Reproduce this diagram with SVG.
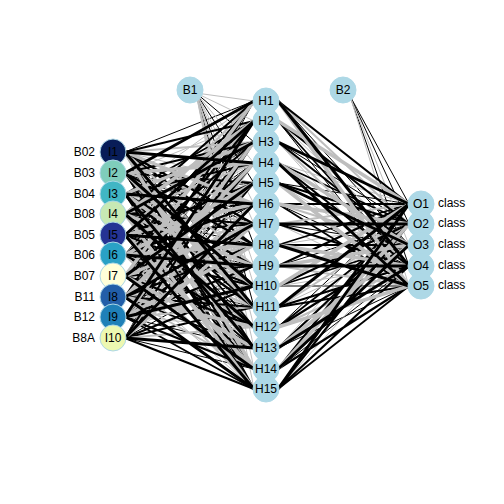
<svg xmlns="http://www.w3.org/2000/svg" width="504" height="504" viewBox="0 0 504 504">
<style>
text{font-family:"Liberation Sans",Arial,sans-serif;font-size:12px;fill:#000}
.n text{text-anchor:middle}
.nd{fill:#add8e6;stroke:#add8e6;stroke-width:1}
.lab{text-anchor:end}
.g{fill:none;stroke:#bebebe}
.k{fill:none;stroke:#000}
</style>
<rect width="504" height="504" fill="#fff"/>
<g id="connectors">
<path class="k" stroke-width="1" d="M125 152L254 101M125 152L254 286M125 173L254 224M125 173L254 389M125 194L254 183M125 194L254 327M125 214L254 245M125 235L254 142M125 235L254 266M125 255L254 163M125 255L254 348M125 276L254 204M125 276L254 307M125 297L254 121M125 297L254 286M125 317L254 183M125 317L254 348M125 338L254 101M125 338L254 266M125 338L254 369M196 93L254 142M196 93L254 183M196 93L254 245M196 93L254 307M278 101L409 245M278 121L409 286M278 142L409 224M278 183L409 204M278 204L409 266M278 224L409 245M278 266L409 224M278 286L409 286M278 327L409 204M278 348L409 286M278 369L409 266M350 96L409 204M350 96L409 224M350 96L409 266"/>
<path class="g" stroke-width="1" d="M125 152L254 183M125 152L254 327M125 173L254 121M125 173L254 266M125 194L254 101M125 194L254 245M125 214L254 183M125 214L254 348M125 235L254 163M125 235L254 307M125 255L254 224M125 255L254 369M125 276L254 142M125 276L254 286M125 276L254 389M125 297L254 204M125 297L254 266M125 317L254 101M125 317L254 327M125 338L254 121M125 338L254 245M196 93L254 101M196 93L254 121M196 93L254 163M196 93L254 204M196 93L254 224M196 93L254 266M196 93L254 286M196 93L254 327M196 93L254 348M196 93L254 369M196 93L254 389M278 121L409 245M278 142L409 286M278 163L409 204M278 183L409 266M278 224L409 286M278 245L409 224M278 286L409 266M278 307L409 245M278 348L409 204M278 389L409 245M350 96L409 245M350 96L409 286"/>
<path class="k" stroke-width="1.8" d="M125 152L254 245M125 152L254 389M125 173L254 183M125 173L254 327M125 194L254 121M125 194L254 307M125 214L254 204M125 214L254 369M125 235L254 224M125 235L254 348M125 255L254 101M125 255L254 286M125 276L254 163M125 276L254 266M125 297L254 142M125 297L254 348M125 317L254 224M125 317L254 389M125 338L254 183M125 338L254 307M278 121L409 266M278 163L409 224M278 204L409 286M278 245L409 204M278 286L409 245M278 307L409 286M278 327L409 224M278 389L409 286"/>
<path class="g" stroke-width="2" d="M125 152L254 142M125 152L254 266M125 173L254 204M125 173L254 348M125 194L254 224M125 194L254 369M125 214L254 163M125 214L254 286M125 235L254 101M125 235L254 327M125 255L254 121M125 255L254 307M125 255L254 389M125 276L254 245M125 297L254 183M125 297L254 369M125 317L254 204M125 317L254 307M125 338L254 163M125 338L254 327M278 101L409 224M278 142L409 266M278 204L409 245M278 224L409 204M278 266L409 286M278 307L409 224M278 327L409 266"/>
<path class="k" stroke-width="2.2" d="M125 152L254 121M125 152L254 224M125 152L254 348M125 173L254 142M125 173L254 245M125 173L254 369M125 194L254 163M125 194L254 266M125 194L254 389M125 214L254 101M125 214L254 224M125 214L254 307M125 235L254 183M125 235L254 286M125 255L254 142M125 255L254 204M125 255L254 327M125 276L254 121M125 276L254 327M125 297L254 101M125 297L254 245M125 297L254 307M125 317L254 163M125 317L254 266M125 317L254 369M125 338L254 142M125 338L254 286M125 338L254 389M278 101L409 204M278 121L409 224M278 142L409 245M278 163L409 266M278 183L409 224M278 204L409 204M278 224L409 266M278 245L409 245M278 266L409 204M278 286L409 224M278 307L409 266M278 327L409 245M278 348L409 224M278 369L409 204M278 369L409 286M278 389L409 224M278 389L409 266"/>
<path class="g" stroke-width="3.5" d="M125 152L254 204M125 152L254 369M125 173L254 163M125 173L254 307M125 194L254 142M125 194L254 286M125 214L254 121M125 214L254 266M125 214L254 389M125 235L254 204M125 235L254 369M125 255L254 183M125 255L254 245M125 276L254 101M125 276L254 224M125 276L254 348M125 297L254 163M125 297L254 327M125 317L254 142M125 317L254 245M125 338L254 224M278 101L409 286M278 121L409 204M278 163L409 245M278 183L409 286M278 204L409 224M278 245L409 266M278 266L409 245M278 286L409 204M278 327L409 286M278 348L409 245M278 369L409 224"/>
<path class="k" stroke-width="3" d="M125 152L254 163M125 152L254 307M125 173L254 101M125 173L254 286M125 194L254 204M125 194L254 348M125 214L254 142M125 214L254 327M125 235L254 121M125 235L254 245M125 235L254 389M125 255L254 266M125 276L254 183M125 276L254 369M125 297L254 224M125 297L254 389M125 317L254 121M125 317L254 286M125 338L254 204M125 338L254 348M278 101L409 266M278 142L409 204M278 163L409 286M278 183L409 245M278 224L409 224M278 245L409 286M278 266L409 266M278 307L409 204M278 348L409 266M278 369L409 245M278 389L409 204"/>
</g>
<g id="labels-in">
<text class="lab" x="95" y="156">B02</text>
<text class="lab" x="95" y="177">B03</text>
<text class="lab" x="95" y="198">B04</text>
<text class="lab" x="95" y="218">B08</text>
<text class="lab" x="95" y="239">B05</text>
<text class="lab" x="95" y="259">B06</text>
<text class="lab" x="95" y="280">B07</text>
<text class="lab" x="95" y="301">B11</text>
<text class="lab" x="95" y="321">B12</text>
<text class="lab" x="95" y="342">B8A</text>
</g>
<g class="n">
<g id="I1"><circle class="nd" cx="113" cy="152" r="13" style="fill:#081d58"/><text x="113" y="156">I1</text></g>
<g id="I2"><circle class="nd" cx="113" cy="173" r="13" style="fill:#7fcdbb"/><text x="113" y="177">I2</text></g>
<g id="I3"><circle class="nd" cx="113" cy="194" r="13" style="fill:#41b6c4"/><text x="113" y="198">I3</text></g>
<g id="I4"><circle class="nd" cx="113" cy="214" r="13" style="fill:#c7e9b4"/><text x="113" y="218">I4</text></g>
<g id="I5"><circle class="nd" cx="113" cy="235" r="13" style="fill:#253494"/><text x="113" y="239">I5</text></g>
<g id="I6"><circle class="nd" cx="113" cy="255" r="13" style="fill:#2aa1c6"/><text x="113" y="259">I6</text></g>
<g id="I7"><circle class="nd" cx="113" cy="276" r="13" style="fill:#ffffd9"/><text x="113" y="280">I7</text></g>
<g id="I8"><circle class="nd" cx="113" cy="297" r="13" style="fill:#225ea8"/><text x="113" y="301">I8</text></g>
<g id="I9"><circle class="nd" cx="113" cy="317" r="13" style="fill:#1f80b8"/><text x="113" y="321">I9</text></g>
<g id="I10"><circle class="nd" cx="113" cy="338" r="13" style="fill:#edf8b1"/><text x="113" y="342">I10</text></g>
<g id="B1"><circle class="nd" cx="190" cy="90" r="13"/><text x="190" y="94">B1</text></g>
<g id="B2"><circle class="nd" cx="343" cy="90" r="13"/><text x="343" y="94">B2</text></g>
<g id="H1"><circle class="nd" cx="266" cy="101" r="13"/><text x="266" y="105">H1</text></g>
<g id="H2"><circle class="nd" cx="266" cy="121" r="13"/><text x="266" y="125">H2</text></g>
<g id="H3"><circle class="nd" cx="266" cy="142" r="13"/><text x="266" y="146">H3</text></g>
<g id="H4"><circle class="nd" cx="266" cy="163" r="13"/><text x="266" y="167">H4</text></g>
<g id="H5"><circle class="nd" cx="266" cy="183" r="13"/><text x="266" y="187">H5</text></g>
<g id="H6"><circle class="nd" cx="266" cy="204" r="13"/><text x="266" y="208">H6</text></g>
<g id="H7"><circle class="nd" cx="266" cy="224" r="13"/><text x="266" y="228">H7</text></g>
<g id="H8"><circle class="nd" cx="266" cy="245" r="13"/><text x="266" y="249">H8</text></g>
<g id="H9"><circle class="nd" cx="266" cy="266" r="13"/><text x="266" y="270">H9</text></g>
<g id="H10"><circle class="nd" cx="266" cy="286" r="13"/><text x="266" y="290">H10</text></g>
<g id="H11"><circle class="nd" cx="266" cy="307" r="13"/><text x="266" y="311">H11</text></g>
<g id="H12"><circle class="nd" cx="266" cy="327" r="13"/><text x="266" y="331">H12</text></g>
<g id="H13"><circle class="nd" cx="266" cy="348" r="13"/><text x="266" y="352">H13</text></g>
<g id="H14"><circle class="nd" cx="266" cy="369" r="13"/><text x="266" y="373">H14</text></g>
<g id="H15"><circle class="nd" cx="266" cy="389" r="13"/><text x="266" y="393">H15</text></g>
<g id="O1"><circle class="nd" cx="421" cy="204" r="13"/><text x="421" y="208">O1</text></g>
<g id="O2"><circle class="nd" cx="421" cy="224" r="13"/><text x="421" y="228">O2</text></g>
<g id="O3"><circle class="nd" cx="421" cy="245" r="13"/><text x="421" y="249">O3</text></g>
<g id="O4"><circle class="nd" cx="421" cy="266" r="13"/><text x="421" y="270">O4</text></g>
<g id="O5"><circle class="nd" cx="421" cy="286" r="13"/><text x="421" y="290">O5</text></g>
</g>
<g id="labels-out">
<text x="438" y="207">class</text>
<text x="438" y="227">class</text>
<text x="438" y="248">class</text>
<text x="438" y="269">class</text>
<text x="438" y="289">class</text>
</g>
</svg>
